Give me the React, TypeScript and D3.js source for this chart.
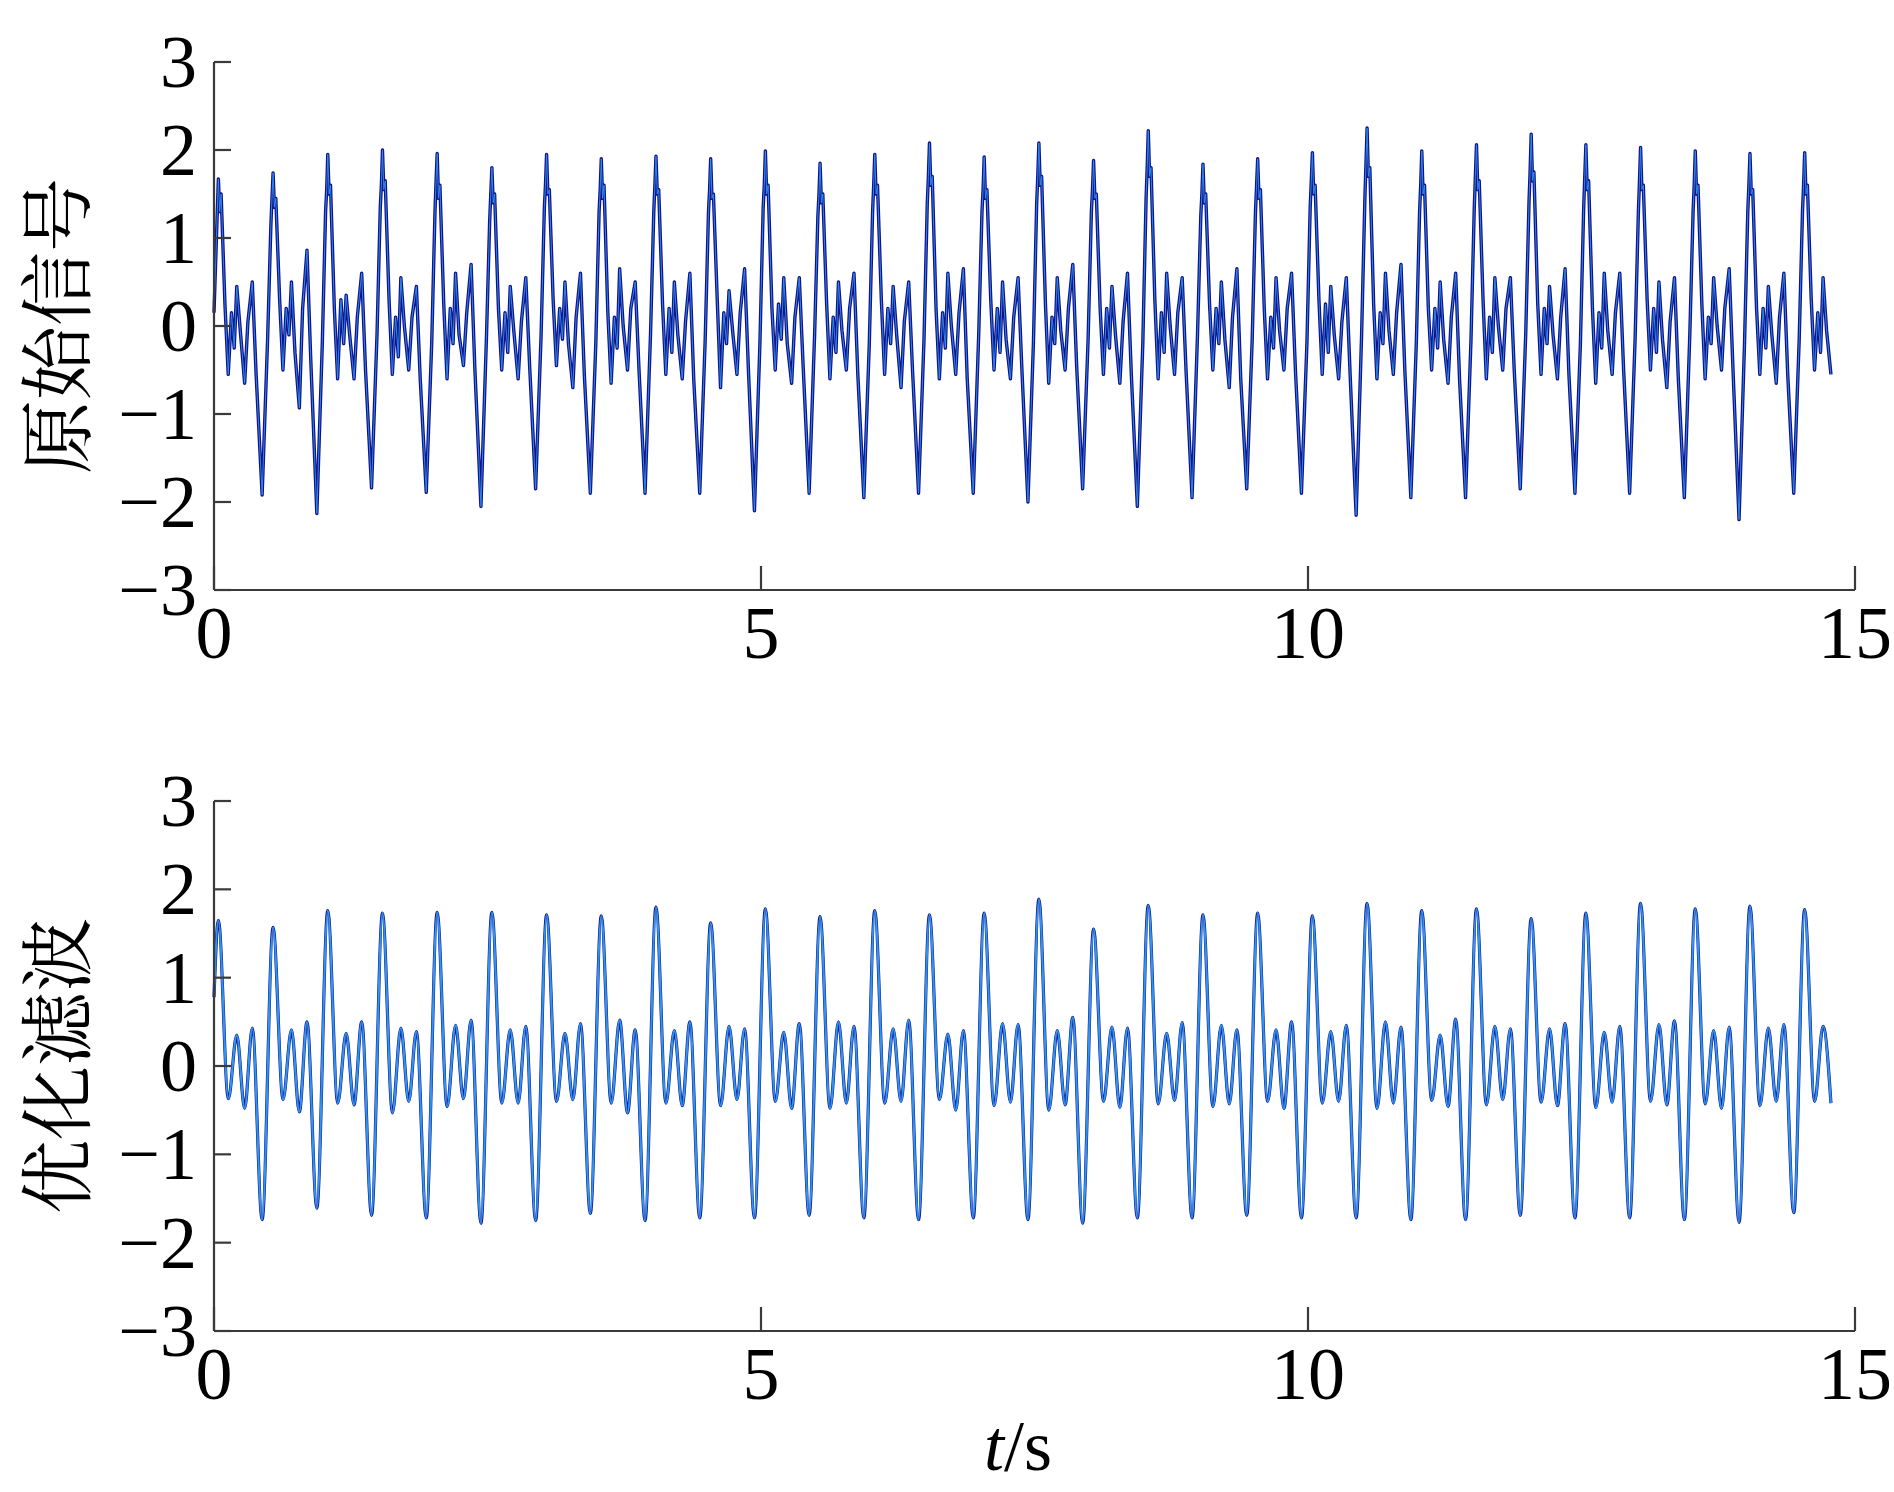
import React from 'react';
import * as d3 from 'd3';

const W = 1894;
const H = 1492;

// ---------- data ----------
const xTicks = [0, 5, 10, 15];
const yTicks = [-3, -2, -1, 0, 1, 2, 3];
const tEnd = 14.8;

// start time of each 0.5 s cycle (time of the big positive peak)
const periodStarts = [
  0.04, 0.54, 1.04, 1.54, 2.04, 2.54, 3.04, 3.54, 4.04, 4.54,
  5.04, 5.54, 6.04, 6.54, 7.04, 7.54, 8.04, 8.54, 9.04, 9.54,
  10.04, 10.54, 11.04, 11.54, 12.04, 12.54, 13.04, 13.54, 14.04, 14.54,
];

// ---- filtered signal (优化滤波): extrema of every cycle ----
const filtOffsets = [0, 0.091, 0.168, 0.24, 0.31, 0.4];
const filtStart = [0, 0.78];
const filtPeak = [
  1.65, 1.57, 1.76, 1.73, 1.74, 1.74, 1.71, 1.7, 1.8, 1.62,
  1.78, 1.69, 1.76, 1.71, 1.73, 1.89, 1.55, 1.82, 1.71, 1.73,
  1.7, 1.84, 1.76, 1.78, 1.67, 1.73, 1.84, 1.78, 1.81, 1.77,
];
const filtTr1 = [
  -0.37, -0.38, -0.42, -0.53, -0.46, -0.42, -0.4, -0.42,
  -0.42, -0.45, -0.4, -0.48, -0.42, -0.38, -0.45, -0.5, -0.4, -0.43, -0.46,
  -0.4, -0.42, -0.48, -0.39, -0.44, -0.41, -0.47, -0.4, -0.43, -0.45, -0.4,
];
const filtP1 = [
  0.35, 0.41, 0.37, 0.43, 0.46, 0.41, 0.37, 0.52,
  0.4, 0.45, 0.38, 0.5, 0.42, 0.36, 0.48, 0.4, 0.44, 0.37, 0.46,
  0.41, 0.39, 0.5, 0.35, 0.45, 0.42, 0.38, 0.47, 0.4, 0.43, 0.45,
];
const filtTr2 = [
  -0.48, -0.52, -0.44, -0.4, -0.37, -0.42, -0.38, -0.53,
  -0.45, -0.38, -0.48, -0.42, -0.4, -0.5, -0.41, -0.44, -0.47, -0.39, -0.43,
  -0.48, -0.4, -0.42, -0.46, -0.38, -0.45, -0.41, -0.44, -0.48, -0.4, -0.42,
];
const filtP2 = [
  0.43, 0.5, 0.5, 0.39, 0.52, 0.45, 0.48, 0.41,
  0.5, 0.42, 0.48, 0.45, 0.52, 0.4, 0.47, 0.55, 0.43, 0.49, 0.41,
  0.5, 0.46, 0.44, 0.53, 0.42, 0.48, 0.45, 0.51, 0.44, 0.47,
];
const filtTrough = [
  -1.74, -1.61, -1.69, -1.72, -1.78, -1.75, -1.67, -1.75, -1.72, -1.72,
  -1.69, -1.72, -1.74, -1.72, -1.74, -1.78, -1.72, -1.72, -1.69, -1.72,
  -1.72, -1.74, -1.74, -1.69, -1.72, -1.72, -1.74, -1.77, -1.66,
];

// ---- raw signal (原始信号): values of every cycle at rawOffsets ----
const rawStart = [0, 0.15];
const rawOffsets = [0, 0.012, 0.025, 0.06, 0.09, 0.12, 0.145, 0.168, 0.2, 0.24, 0.27, 0.31, 0.345, 0.4, 0.45, 0.48, 0.49];
const rawRows = [
  [1.67, 1.3, 1.5, 0.25, -0.55, 0.15, -0.25, 0.45, -0.05, -0.65, 0.05, 0.5, -0.55, -1.92, -0.15, 1.15, 1.45],
  [1.74, 1.35, 1.45, 0.3, -0.5, 0.2, -0.1, 0.5, -0.3, -0.93, 0.2, 0.86, -0.4, -2.13, -0.2, 1.3, 1.55],
  [1.95, 1.5, 1.6, 0.2, -0.6, 0.3, -0.2, 0.35, -0.1, -0.6, 0.1, 0.6, -0.5, -1.84, -0.1, 1.35, 1.6],
  [2.0, 1.55, 1.65, 0.3, -0.55, 0.1, -0.35, 0.55, 0.0, -0.5, 0.1, 0.45, -0.6, -1.89, -0.2, 1.3, 1.65],
  [1.96, 1.45, 1.6, 0.25, -0.6, 0.2, -0.2, 0.6, -0.1, -0.45, 0.15, 0.7, -0.5, -2.05, -0.15, 1.2, 1.5],
  [1.8, 1.4, 1.5, 0.2, -0.5, 0.15, -0.3, 0.45, -0.05, -0.6, 0.05, 0.55, -0.45, -1.85, -0.1, 1.35, 1.6],
  [1.95, 1.5, 1.55, 0.3, -0.45, 0.2, -0.15, 0.5, -0.2, -0.7, 0.1, 0.6, -0.55, -1.9, -0.2, 1.3, 1.55],
  [1.9, 1.45, 1.6, 0.15, -0.65, 0.1, -0.25, 0.65, 0.0, -0.5, 0.2, 0.5, -0.5, -1.9, -0.1, 1.3, 1.6],
  [1.93, 1.5, 1.55, 0.25, -0.55, 0.2, -0.3, 0.5, -0.1, -0.6, 0.05, 0.6, -0.6, -1.9, -0.15, 1.3, 1.55],
  [1.9, 1.45, 1.5, 0.3, -0.7, 0.15, -0.2, 0.4, -0.05, -0.55, 0.15, 0.65, -0.5, -2.1, -0.2, 1.35, 1.6],
  [1.99, 1.5, 1.6, 0.2, -0.5, 0.25, -0.15, 0.55, -0.2, -0.65, 0.1, 0.55, -0.45, -1.9, -0.1, 1.25, 1.5],
  [1.85, 1.4, 1.5, 0.25, -0.6, 0.1, -0.3, 0.5, -0.05, -0.5, 0.2, 0.6, -0.55, -1.95, -0.2, 1.3, 1.6],
  [1.95, 1.5, 1.6, 0.3, -0.55, 0.2, -0.2, 0.45, -0.1, -0.7, 0.05, 0.5, -0.5, -1.9, -0.15, 1.4, 1.7],
  [2.08, 1.6, 1.7, 0.2, -0.6, 0.15, -0.25, 0.6, 0.0, -0.55, 0.15, 0.65, -0.6, -1.9, -0.1, 1.3, 1.55],
  [1.92, 1.45, 1.55, 0.3, -0.5, 0.2, -0.3, 0.5, -0.15, -0.6, 0.1, 0.55, -0.5, -2.0, -0.2, 1.4, 1.7],
  [2.08, 1.6, 1.7, 0.25, -0.65, 0.1, -0.2, 0.55, -0.05, -0.5, 0.2, 0.7, -0.45, -1.85, -0.15, 1.3, 1.55],
  [1.88, 1.45, 1.5, 0.2, -0.55, 0.2, -0.25, 0.45, -0.1, -0.65, 0.05, 0.6, -0.55, -2.05, -0.2, 1.45, 1.8],
  [2.22, 1.7, 1.8, 0.3, -0.6, 0.15, -0.3, 0.6, 0.0, -0.55, 0.15, 0.55, -0.5, -1.95, -0.1, 1.25, 1.5],
  [1.84, 1.4, 1.5, 0.25, -0.5, 0.2, -0.2, 0.5, -0.15, -0.7, 0.1, 0.65, -0.6, -1.85, -0.15, 1.3, 1.6],
  [1.9, 1.45, 1.55, 0.2, -0.6, 0.1, -0.25, 0.55, -0.05, -0.5, 0.2, 0.6, -0.5, -1.9, -0.2, 1.35, 1.65],
  [1.97, 1.5, 1.6, 0.3, -0.55, 0.25, -0.3, 0.45, -0.1, -0.6, 0.05, 0.55, -0.55, -2.15, -0.1, 1.45, 1.85],
  [2.25, 1.7, 1.8, 0.25, -0.6, 0.15, -0.2, 0.6, -0.05, -0.55, 0.15, 0.7, -0.5, -1.95, -0.2, 1.3, 1.6],
  [1.99, 1.5, 1.6, 0.2, -0.5, 0.2, -0.25, 0.5, -0.15, -0.65, 0.1, 0.6, -0.6, -1.95, -0.15, 1.35, 1.7],
  [2.06, 1.55, 1.65, 0.3, -0.6, 0.1, -0.3, 0.55, 0.0, -0.5, 0.2, 0.55, -0.5, -1.85, -0.1, 1.4, 1.75],
  [2.18, 1.65, 1.75, 0.25, -0.55, 0.2, -0.2, 0.45, -0.1, -0.6, 0.1, 0.65, -0.55, -1.9, -0.2, 1.35, 1.7],
  [2.06, 1.55, 1.65, 0.2, -0.65, 0.15, -0.25, 0.6, -0.05, -0.55, 0.15, 0.6, -0.5, -1.9, -0.15, 1.3, 1.65],
  [2.03, 1.55, 1.6, 0.3, -0.5, 0.2, -0.3, 0.5, -0.15, -0.7, 0.05, 0.55, -0.6, -1.95, -0.1, 1.3, 1.6],
  [1.99, 1.5, 1.6, 0.25, -0.6, 0.1, -0.2, 0.55, 0.0, -0.5, 0.2, 0.65, -0.5, -2.2, -0.2, 1.3, 1.6],
  [1.96, 1.5, 1.55, 0.2, -0.55, 0.2, -0.25, 0.45, -0.1, -0.65, 0.1, 0.6, -0.55, -1.9, -0.15, 1.3, 1.6],
  [1.97, 1.5, 1.6, 0.3, -0.5, 0.15, -0.3, 0.55, -0.05, -0.55],
];

// ---------- build point lists ----------
type Pt = [number, number];

function buildFiltered(): Pt[] {
  const pts: Pt[] = [[filtStart[0], filtStart[1]]];
  periodStarts.forEach((s, k) => {
    const vals = [filtPeak[k], filtTr1[k], filtP1[k], filtTr2[k], filtP2[k], filtTrough[k]];
    vals.forEach((v, j) => {
      const t = s + filtOffsets[j];
      if (v !== undefined && t <= tEnd) pts.push([t, v]);
    });
  });
  return pts;
}

function buildRaw(): Pt[] {
  const pts: Pt[] = [[rawStart[0], rawStart[1]]];
  periodStarts.forEach((s, k) => {
    const row = rawRows[k] || [];
    row.forEach((v, j) => {
      const t = s + rawOffsets[j];
      if (t <= tEnd) pts.push([t, v]);
    });
  });
  return pts;
}

// ---------- layout ----------
const LEFT = 214;
const RIGHT = 1855;
const panels = [
  { top: 62, bottom: 590, label: '原始信号', kind: 'raw' },
  { top: 801, bottom: 1331, label: '优化滤波', kind: 'filt' },
];

const AXIS_COLOR = '#3a3a3a';
const NAVY = '#12138a';
const LIGHT = '#2e94f2';
const SERIF = "'Liberation Serif', 'Times New Roman', serif";
const CJK = "'Noto Serif CJK SC', 'Noto Sans CJK SC', sans-serif";

const fmt = d3.format('d');

function Panel({ top, bottom, label, kind }: { top: number; bottom: number; label: string; kind: string }) {
  const x = d3.scaleLinear().domain([0, 15]).range([LEFT, RIGHT]);
  const y = d3.scaleLinear().domain([-3, 3]).range([bottom, top]);
  const data = kind === 'raw' ? buildRaw() : buildFiltered();
  const line = d3
    .line<Pt>()
    .x((d) => x(d[0]))
    .y((d) => y(d[1]))
    .curve(kind === 'raw' ? d3.curveLinear : d3.curveMonotoneX);
  const path = line(data) || '';
  const cy = (top + bottom) / 2;
  const isRaw = kind === 'raw';
  return (
    <g>
      {/* signal */}
      <path d={path} fill="none" stroke={NAVY} strokeWidth={isRaw ? 3.4 : 3.2} strokeLinejoin="round" />
      <path d={path} fill="none" stroke={LIGHT} strokeWidth={isRaw ? 0.9 : 2.2} strokeLinejoin="round" />
      {/* axes */}
      <line x1={x(0)} x2={x(15)} y1={y(-3)} y2={y(-3)} stroke={AXIS_COLOR} strokeWidth={2.2} />
      <line x1={x(0)} x2={x(0)} y1={y(-3)} y2={y(3)} stroke={AXIS_COLOR} strokeWidth={2.2} />
      {yTicks.map((v) => (
        <g key={'y' + v}>
          <line x1={x(0)} x2={x(0) + 17} y1={y(v)} y2={y(v)} stroke={AXIS_COLOR} strokeWidth={2.2} />
          <text
            x={x(0) - 17}
            y={y(v)}
            dy="0.34em"
            textAnchor="end"
            fontFamily={SERIF}
            fontSize={74}
            fill="#000"
          >
            {fmt(v)}
          </text>
        </g>
      ))}
      {xTicks.map((v) => (
        <g key={'x' + v}>
          <line x1={x(v)} x2={x(v)} y1={y(-3)} y2={y(-3) - 24} stroke={AXIS_COLOR} strokeWidth={2.2} />
          <text x={x(v)} y={y(-3) + 68} textAnchor="middle" fontFamily={SERIF} fontSize={74} fill="#000">
            {fmt(v)}
          </text>
        </g>
      ))}
      <text
        transform={`translate(58, ${cy}) rotate(-90)`}
        textAnchor="middle"
        dy="0.35em"
        fontFamily={CJK}
        fontSize={74}
        fill="#000"
      >
        {label}
      </text>
    </g>
  );
}

export default function App() {
  return (
    <svg
      width={W}
      height={H}
      viewBox={`0 0 ${W} ${H}`}
      style={{ position: 'absolute', left: 0, top: 0, background: '#fff' }}
    >
      <rect x={0} y={0} width={W} height={H} fill="#fff" />
      {panels.map((p) => (
        <Panel key={p.label} {...p} />
      ))}
      <text x={1018} y={1470} textAnchor="middle" fontFamily={SERIF} fontSize={72} fill="#000">
        <tspan fontStyle="italic">t</tspan>
        <tspan>/s</tspan>
      </text>
    </svg>
  );
}
